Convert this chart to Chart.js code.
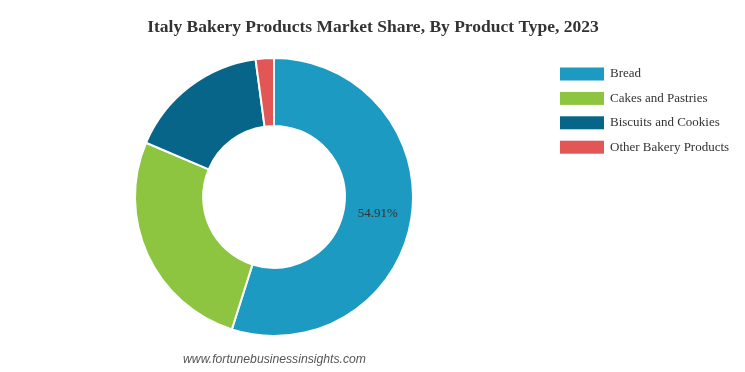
<!DOCTYPE html>
<html>
<head>
<meta charset="utf-8">
<script src="https://cdn.jsdelivr.net/npm/chart.js@4"></script>
<style>
  html, body { margin: 0; padding: 0; background: #fff; }
  #wrap { width: 745px; height: 372px; position: relative; }
</style>
</head>
<body>
<div id="wrap"><canvas id="myChart" width="745" height="372"></canvas></div>
<script>
var title = "Italy Bakery Products Market Share, By Product Type, 2023";
var categories = ["Bread", "Cakes and Pastries", "Biscuits and Cookies", "Other Bakery Products"];
var shares = [54.91, 26.47, 16.5, 2.12];
var colors = ['#1d9ac2', '#8dc540', '#07658a', '#e25656'];
var shownLabels = [true, false, false, false]; // only Bread has a value label
var source = "www.fortunebusinessinsights.com";

// title, legend, value label and source line drawn on the canvas
var textPlugin = {
  id: 'texts',
  afterDraw: function (chart) {
    var c = chart.ctx;
    c.save();
    c.fillStyle = '#333';
    c.textAlign = 'center';
    c.textBaseline = 'middle';
    c.font = 'bold 17.5px "Liberation Serif", "Times New Roman", serif';
    c.fillText(title, 373, 27);

    // legend
    c.font = '13px "Liberation Serif", "Times New Roman", serif';
    c.textAlign = 'left';
    categories.forEach(function (name, i) {
      var y = 74 + i * 24.4;
      c.fillStyle = colors[i];
      c.fillRect(560, y - 6.5, 44, 13);
      c.fillStyle = '#333';
      c.fillText(name, 610, y);
    });

    // value label
    var meta = chart.getDatasetMeta(0);
    c.textAlign = 'center';
    meta.data.forEach(function (arc, i) {
      if (!shownLabels[i]) return;
      var p = arc.tooltipPosition();
      c.fillStyle = '#333';
      c.fillText(shares[i].toFixed(2) + '%', p.x, p.y);
    });

    // source
    c.font = 'italic 12.2px "Liberation Sans", Arial, sans-serif';
    c.fillStyle = '#555';
    c.fillText(source, 274.5, 360);
    c.restore();
  }
};

var ctx = document.getElementById("myChart").getContext('2d');
var myChart = new Chart(ctx, {
  type: 'doughnut',
  data: {
    labels: categories,
    datasets: [{
      data: shares,
      backgroundColor: colors,
      borderColor: '#ffffff',
      borderWidth: 2
    }]
  },
  options: {
    responsive: false,
    animation: false,
    cutout: '51%',
    layout: { padding: { top: 57, bottom: 35, left: 0, right: 197 } },
    plugins: {
      legend: { display: false },
      title: { display: false },
      tooltip: { enabled: false }
    }
  },
  plugins: [textPlugin]
});
</script>
</body>
</html>
